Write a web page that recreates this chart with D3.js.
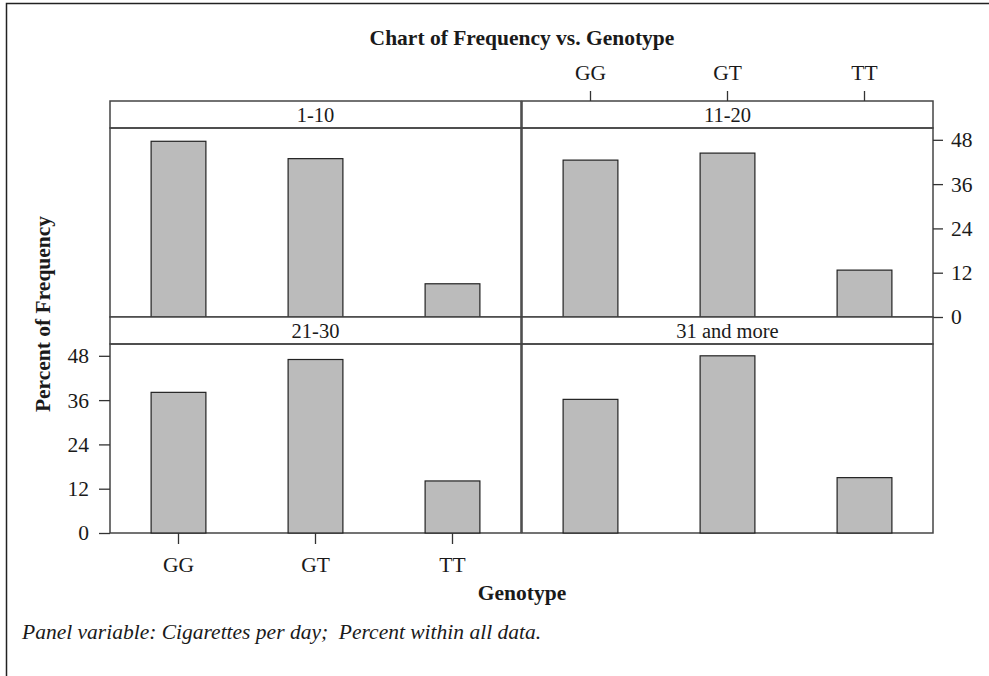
<!DOCTYPE html>
<html>
<head>
<meta charset="utf-8">
<script src="https://cdn.jsdelivr.net/npm/d3@7"></script>
<style>
  body { margin: 0; background: #fff; }
  text { font-family: "Liberation Serif", "Times New Roman", serif; fill: #1a1a1a; }
</style>
</head>
<body>
<div id="chart"></div>
<script>
// categories and panel values (percent of frequency)
var genotypes = ["GG", "GT", "TT"];
var panelNames = ["1-10", "11-20", "21-30", "31 and more"];
var pct1to10 = [47.6, 42.9, 9.0];
var pct11to20 = [42.5, 44.4, 12.7];
var pct21to30 = [38.1, 47.0, 14.1];
var pct31more = [36.2, 48.0, 15.0];
var yTicks = [0, 12, 24, 36, 48];

var panelValues = [pct1to10, pct11to20, pct21to30, pct31more];

var w = 989, h = 676;
var colX = [110, 522], colW = 411;
var rowY = [101, 317], stripH = 27, plotH = 189;

var svg = d3.select("#chart").append("svg").attr("width", w).attr("height", h);

// outer frame (right/bottom edges fall off the page)
svg.append("rect")
    .attr("x", 6.5).attr("y", 3.5)
    .attr("width", 1000).attr("height", 700)
    .attr("fill", "none").attr("stroke", "#222").attr("stroke-width", 1.5);

var x = d3.scaleBand().domain(genotypes).range([0, colW]).paddingInner(0.6).paddingOuter(0.3);
var y = d3.scaleLinear().domain([0, 51.2]).range([plotH, 0]);

panelNames.forEach(function(name, i) {
    var col = i % 2, row = Math.floor(i / 2);
    var g = svg.append("g").attr("transform", "translate(" + colX[col] + "," + rowY[row] + ")");

    // strip
    g.append("rect")
        .attr("width", colW).attr("height", stripH)
        .attr("fill", "#fff").attr("stroke", "#444").attr("stroke-width", 1.5);
    g.append("text")
        .attr("x", colW / 2).attr("y", stripH / 2 + 7)
        .attr("text-anchor", "middle")
        .style("font-size", "20.5px")
        .text(name);

    var plot = g.append("g").attr("transform", "translate(0," + stripH + ")");
    plot.append("rect")
        .attr("width", colW).attr("height", plotH)
        .attr("fill", "none").attr("stroke", "#444").attr("stroke-width", 1.5);

    plot.selectAll(".bar")
        .data(panelValues[i])
        .enter()
        .append("rect")
        .attr("class", "bar")
        .attr("x", function(d, j) { return x(genotypes[j]); })
        .attr("y", function(d) { return y(d); })
        .attr("width", x.bandwidth())
        .attr("height", function(d) { return plotH - y(d); })
        .attr("fill", "#bbbbbb")
        .attr("stroke", "#222")
        .attr("stroke-width", 1.2);

    // axes only on the outer panels, like the trellis layout
    if (i === 2) {
        plot.append("g").call(d3.axisLeft(y).tickValues(yTicks).tickSize(11).tickPadding(10)).call(styleAxis);
        plot.append("g").attr("transform", "translate(0," + plotH + ")")
            .call(d3.axisBottom(x).tickSize(11).tickPadding(13)).call(styleAxis);
    }
    if (i === 1) {
        plot.append("g").attr("transform", "translate(" + colW + ",0)")
            .call(d3.axisRight(y).tickValues(yTicks).tickSize(10).tickPadding(8)).call(styleAxis);
        g.append("g").call(d3.axisTop(x).tickSize(10).tickPadding(11)).call(styleAxis);
    }
});

function styleAxis(sel) {
    sel.select(".domain").remove();
    sel.selectAll(".tick line").attr("stroke", "#333").attr("stroke-width", 1.3);
    sel.selectAll(".tick text")
        .style("font-family", "'Liberation Serif', 'Times New Roman', serif")
        .style("font-size", "21.5px")
        .attr("fill", "#1a1a1a");
}

// titles
svg.append("text")
    .attr("x", 522).attr("y", 45)
    .attr("text-anchor", "middle")
    .style("font-size", "21.5px").style("font-weight", "bold")
    .text("Chart of Frequency vs. Genotype");

svg.append("text")
    .attr("transform", "translate(50,314) rotate(-90)")
    .attr("text-anchor", "middle")
    .style("font-size", "21.5px").style("font-weight", "bold")
    .text("Percent of Frequency");

svg.append("text")
    .attr("x", 522).attr("y", 600)
    .attr("text-anchor", "middle")
    .style("font-size", "21.5px").style("font-weight", "bold")
    .text("Genotype");

svg.append("text")
    .attr("x", 22).attr("y", 639)
    .style("font-size", "21.5px").style("font-style", "italic")
    .style("white-space", "pre")
    .text("Panel variable: Cigarettes per day;  Percent within all data.");
</script>
</body>
</html>
